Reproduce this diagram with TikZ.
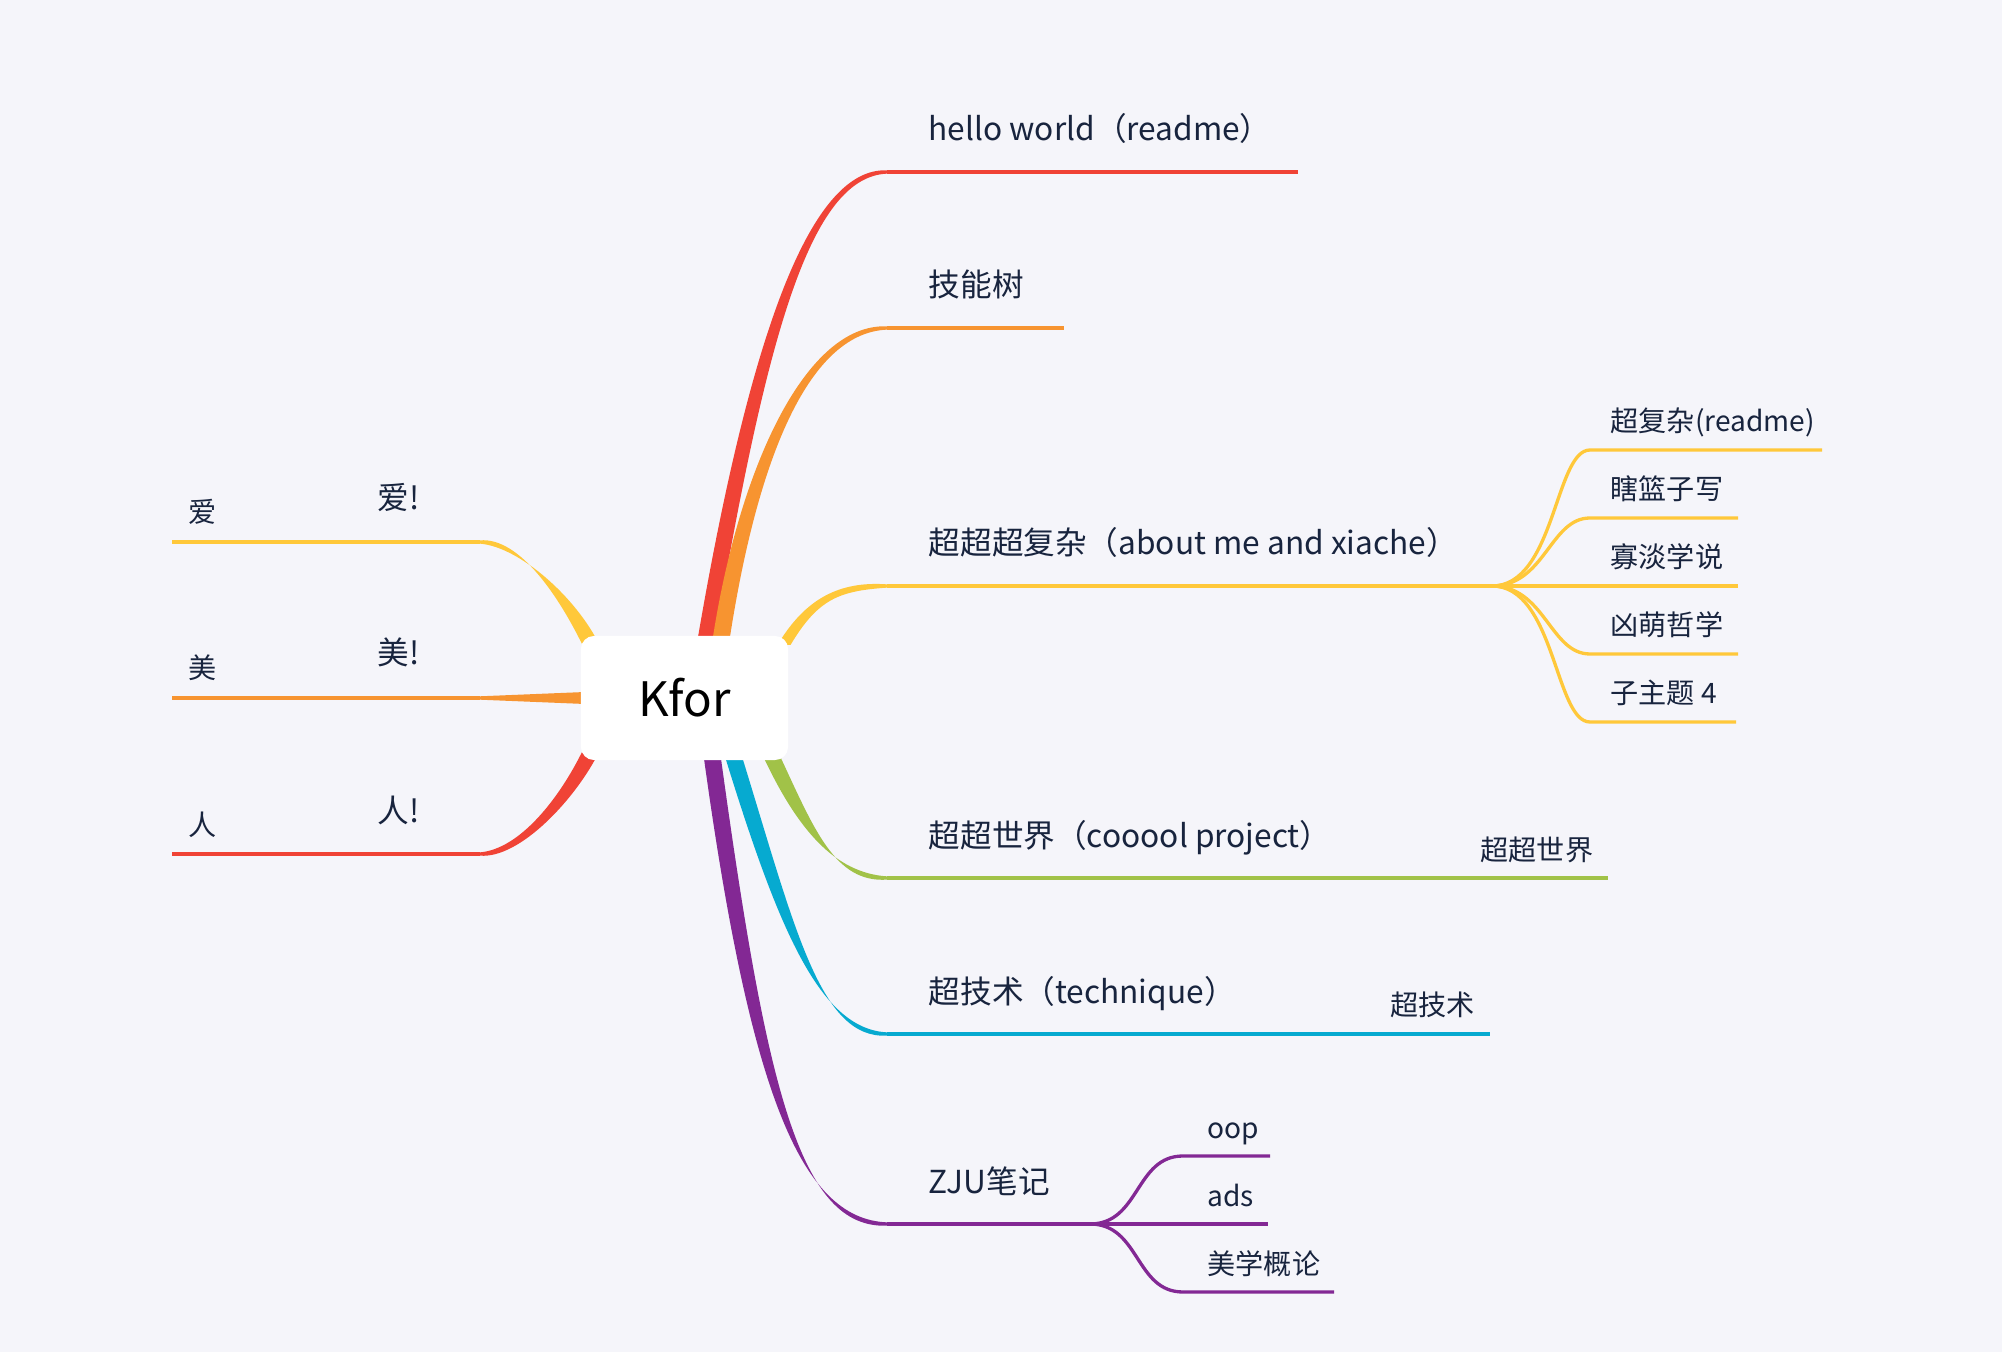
\documentclass[tikz,border=0pt]{standalone}
\usepackage{fontspec}
\setmainfont{Noto Sans CJK SC}
\usetikzlibrary{calc, positioning}

\definecolor{bg}{RGB}{245,245,250}
\definecolor{ink}{RGB}{24,36,62}
\definecolor{cred}{RGB}{240,67,54}
\definecolor{corange}{RGB}{247,148,48}
\definecolor{cyellow}{RGB}{255,200,58}
\definecolor{cgreen}{RGB}{161,194,72}
\definecolor{ccyan}{RGB}{6,170,208}
\definecolor{cpurple}{RGB}{131,40,148}

% tapered branch: [half width], colour, start, control 1, control 2, end
\newcommand{\taper}[6][8.5]{%
  \fill[#2] ($(#3)+(-#1,0)$) .. controls ($(#4)+(-#1,0)$) and ($(#5)+(0,-5)$) .. ($(#6)+(0,-1.65)$)
    -- ($(#6)+(0,1.65)$) .. controls ($(#5)+(0,5)$) and ($(#4)+(#1,0)$) .. ($(#3)+(#1,0)$) -- cycle;}

\begin{document}
\begin{tikzpicture}[x=0.01cm,y=-0.01cm]

	\tikzstyle{every node}=[inner sep=0pt, text=ink]
	\tikzstyle{root}=[rectangle, rounded corners=0.13cm, fill=white, minimum width=2.07cm, minimum height=1.24cm, text=black, font=\fontsize{13.5}{16}\selectfont]
	\tikzstyle{topic}=[anchor=base west, font=\fontsize{9}{11}\selectfont]
	\tikzstyle{subtopic}=[anchor=base west, font=\fontsize{8}{10}\selectfont]
	\tikzstyle{topic line}=[line width=0.94pt]

	\fill[bg] (0,0) rectangle (2002,1352);
	\useasboundingbox (0,0) rectangle (2002,1352);

	% start points on the central topic
	\coordinate (k1) at (706,640);
	\coordinate (k2) at (721,640);
	\coordinate (k3) at (784,645);
	\coordinate (k4) at (771,755);
	\coordinate (k5) at (733,755);
	\coordinate (k6) at (712,755);
	\coordinate (k7) at (591,645);
	\coordinate (k8) at (591,751);

	% ends of the main branches
	\coordinate (t1) at (887,172);  \coordinate (t1e) at (1298,172);
	\coordinate (t2) at (887,328);  \coordinate (t2e) at (1064,328);
	\coordinate (t3) at (887,586);  \coordinate (b3) at (1492,586);
	\coordinate (t4) at (887,878);  \coordinate (b4) at (1460,878);  \coordinate (t4e) at (1608,878);
	\coordinate (t5) at (887,1034); \coordinate (b5) at (1370,1034); \coordinate (t5e) at (1490,1034);
	\coordinate (t6) at (887,1224); \coordinate (b6) at (1090,1224);
	\coordinate (l1) at (480,542);  \coordinate (l1e) at (172,542);
	\coordinate (l2) at (480,698);  \coordinate (l2e) at (172,698);
	\coordinate (l3) at (480,854);  \coordinate (l3e) at (172,854);

	\taper{cred}{k1}{758,336}{810,172}{t1}
	\taper{corange}{k2}{747,470}{805,328}{t2}
	\taper[6.5]{cyellow}{k3}{812,598}{840,586}{t3}
	\taper{cgreen}{k4}{806,830}{835,878}{t4}
	\taper{ccyan}{k5}{787,930}{820,1034}{t5}
	\taper{cpurple}{k6}{758,1090}{800,1224}{t6}
	\taper{cyellow}{k7}{568,598}{520,542}{l1}
	\taper{cred}{k8}{568,798}{520,854}{l3}
	\fill[corange] (585,692) -- (l2 |- 0,696.3) -- (l2 |- 0,699.7) -- (585,704) -- cycle;

	\draw[topic line, cred] (t1) -- (t1e);
	\draw[topic line, corange] (t2) -- (t2e);
	\draw[topic line, cyellow] (t3) -- (b3);
	\draw[topic line, cgreen] (t4) -- (b4) -- (t4e);
	\draw[topic line, ccyan] (t5) -- (b5) -- (t5e);
	\draw[topic line, cpurple] (t6) -- (b6);
	\draw[topic line, cyellow] (l1) -- (l1e);
	\draw[topic line, corange] (l2) -- (l2e);
	\draw[topic line, cred] (l3) -- (l3e);

	% sub topics of the yellow branch
	\coordinate (y1) at (1590,450); \coordinate (y1e) at (1822,450);
	\coordinate (y2) at (1590,518); \coordinate (y2e) at (1738,518);
	\coordinate (y3e) at (1738,586);
	\coordinate (y4) at (1590,654); \coordinate (y4e) at (1738,654);
	\coordinate (y5) at (1590,722); \coordinate (y5e) at (1736,722);
	\draw[topic line, cyellow] (b3) .. controls (1555,586) and (1555,450) .. (y1) -- (y1e);
	\draw[topic line, cyellow] (b3) .. controls (1545,586) and (1550,518) .. (y2) -- (y2e);
	\draw[topic line, cyellow] (b3) -- (y3e);
	\draw[topic line, cyellow] (b3) .. controls (1545,586) and (1550,654) .. (y4) -- (y4e);
	\draw[topic line, cyellow] (b3) .. controls (1555,586) and (1555,722) .. (y5) -- (y5e);

	% sub topics of the purple branch
	\coordinate (z1) at (1183,1156); \coordinate (z1e) at (1270,1156);
	\coordinate (z2e) at (1268,1224);
	\coordinate (z3) at (1183,1292); \coordinate (z3e) at (1334,1292);
	\draw[topic line, cpurple] (b6) .. controls (1140,1224) and (1135,1156) .. (z1) -- (z1e);
	\draw[topic line, cpurple] (b6) -- (z2e);
	\draw[topic line, cpurple] (b6) .. controls (1140,1224) and (1135,1292) .. (z3) -- (z3e);

	\node[root] (root) at (684.5,698) {Kfor};

	\node[topic] (hello) at (928,141) {hello world（readme）};
	\node[topic] (skill) at (928,297) {技能树};
	\node[topic] (complex) at (928,555) {超超超复杂（about me and xiache）};
	\node[topic] (world) at (928,847) {超超世界（cooool project）};
	\node[topic] (tech) at (928,1003) {超技术（technique）};
	\node[topic] (zju) at (928,1193) {ZJU笔记};

	\node[subtopic] (readme) at (1610,432) {超复杂(readme)};
	\node[subtopic] (basket) at (1610,500) {瞎篮子写};
	\node[subtopic] (bland) at (1610,568) {寡淡学说};
	\node[subtopic] (cute) at (1610,636) {凶萌哲学};
	\node[subtopic] (sub4) at (1610,704) {子主题 4};
	\node[subtopic] (world2) at (1480,860) {超超世界};
	\node[subtopic] (tech2) at (1390,1015) {超技术};
	\node[subtopic] (oop) at (1207,1138) {oop};
	\node[subtopic] (ads) at (1207,1206) {ads};
	\node[subtopic] (art) at (1207,1274) {美学概论};

	\node[subtopic] (love) at (188,523) {爱};
	\node[subtopic] (beauty) at (188,679) {美};
	\node[subtopic] (human) at (188,835) {人};
	\node[topic] (love2) at (377,510) {爱!};
	\node[topic] (beauty2) at (377,665) {美!};
	\node[topic] (human2) at (377,822) {人!};

\end{tikzpicture}
\end{document}
